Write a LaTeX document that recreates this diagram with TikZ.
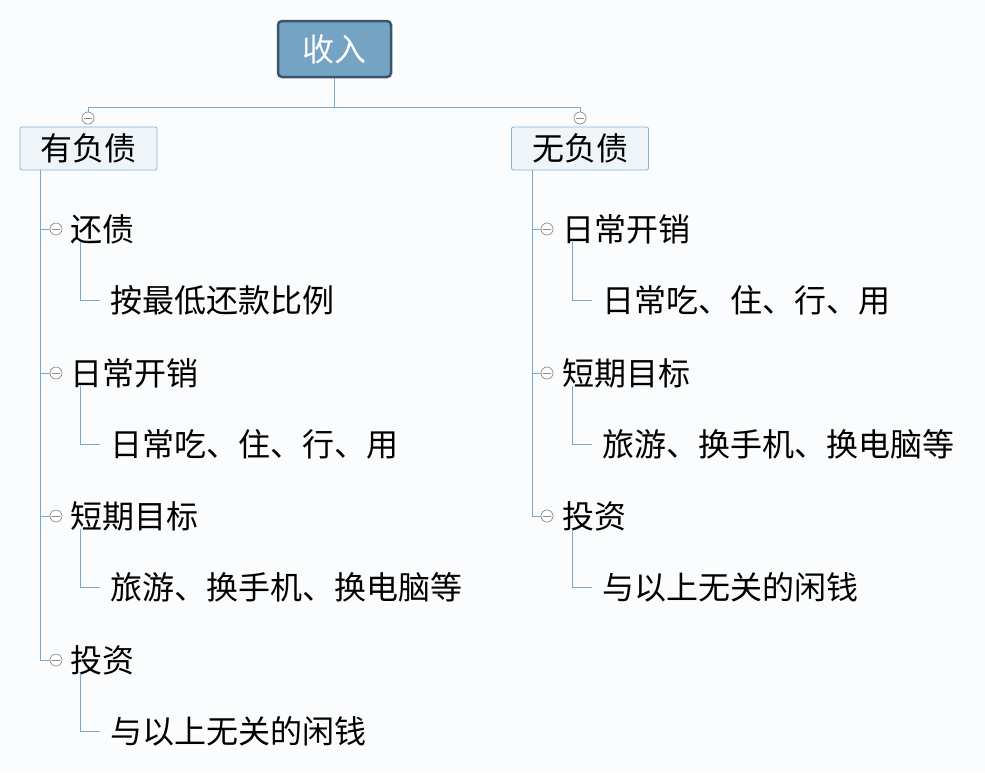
\documentclass[tikz,border=0pt]{standalone}
\usepackage{fontspec}
\usepackage{tikz}
\usetikzlibrary{positioning}
\newfontfamily\cjk{Noto Sans CJK SC}
\definecolor{bgcol}{HTML}{FBFCFD}
\definecolor{rootfill}{HTML}{74A3C4}
\definecolor{rootline}{HTML}{3B556B}
\definecolor{boxfill}{HTML}{EFF4F8}
\definecolor{boxline}{HTML}{86B3D3}
\definecolor{linkcol}{HTML}{7AA9CF}
\definecolor{foldcol}{HTML}{8C8C8C}
\tikzset{
  root/.style={draw=rootline, line width=2.5pt, fill=rootfill, rounded corners=4pt,
    minimum width=113pt, minimum height=56pt, text=white, inner sep=0pt},
  branch/.style={draw=boxline, line width=0.8pt, fill=boxfill, rounded corners=2pt,
    minimum width=137pt, minimum height=43pt, inner sep=0pt},
  leaf/.style={anchor=west, inner sep=0pt},
  link/.style={draw=linkcol, line width=0.9pt},
  fold/.style={circle, draw=foldcol, line width=0.7pt, fill=white, minimum size=12pt, inner sep=0pt,
    path picture={\draw[foldcol, line width=0.7pt]
      ([xshift=-4pt]path picture bounding box.center) -- ([xshift=4pt]path picture bounding box.center);}}
}
\begin{document}
\begin{tikzpicture}[x=1pt,y=-1pt,font=\cjk\fontsize{32}{32}\selectfont]
    \useasboundingbox (0,0) rectangle (985,772);
    \fill[bgcol] (0,0) rectangle (985,772);
    % Draw the root and the two branches
    \node[root] (income) at (334.5,49) {收入};
    \node[branch] (debt) at (88.5,148.5) {有负债};
    \node[branch] (nodebt) at (580,148.5) {无负债};
    \node[fold] (fdebt) at (88,118) {};
    \node[fold] (fnodebt) at (580,118) {};
    \draw[link] (income.south) -- ++(0,29) coordinate (split);
    \draw[link] (fdebt.north) |- (split) -| (fnodebt.north);

    % Left side: children and leaves
    \coordinate (ltrunk) at (40,170);
    \coordinate (lleaf) at (80,0);
    \foreach \name/\y/\txt/\sub in {l1/229/还债/按最低还款比例,
                                    l2/373/日常开销/日常吃、住、行、用,
                                    l3/516/短期目标/旅游、换手机、换电脑等,
                                    l4/660/投资/与以上无关的闲钱} {
        \node[fold] (f\name) at (56,\y) {};
        \node[leaf] (\name) at (70,\y) {\txt};
        \node[leaf] (g\name) at (110,\y+71) {\sub};
        \draw[link] (ltrunk |- f\name) -- (f\name.west);
        \draw[link] ([yshift=2pt]\name.south -| lleaf) |- ([xshift=-10pt]g\name.west);
    }
    \draw[link] (ltrunk) |- (fl4.west);

    % Right side: children and leaves
    \coordinate (rtrunk) at (532,170);
    \coordinate (rleaf) at (572,0);
    \foreach \name/\y/\txt/\sub in {r1/229/日常开销/日常吃、住、行、用,
                                    r2/373/短期目标/旅游、换手机、换电脑等,
                                    r3/516/投资/与以上无关的闲钱} {
        \node[fold] (f\name) at (547,\y) {};
        \node[leaf] (\name) at (562,\y) {\txt};
        \node[leaf] (g\name) at (602,\y+71) {\sub};
        \draw[link] (rtrunk |- f\name) -- (f\name.west);
        \draw[link] ([yshift=2pt]\name.south -| rleaf) |- ([xshift=-10pt]g\name.west);
    }
    \draw[link] (rtrunk) |- (fr3.west);
\end{tikzpicture}
\end{document}
